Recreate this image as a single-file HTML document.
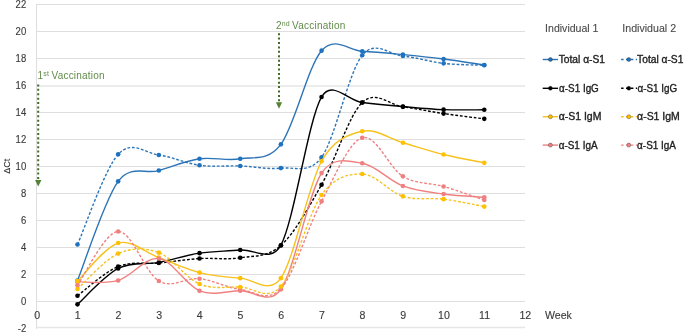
<!DOCTYPE html>
<html><head><meta charset="utf-8"><style>
html,body{margin:0;padding:0;background:#fff;}
svg{display:block;will-change:transform;}
text{font-family:"Liberation Sans",sans-serif;}
</style></head><body>
<svg width="685" height="334" viewBox="0 0 685 334">
<g stroke="#DEDEDE" stroke-width="1" shape-rendering="crispEdges"><line x1="36" y1="4.5" x2="525" y2="4.5"/><line x1="36" y1="31.5" x2="525" y2="31.5"/><line x1="36" y1="58.5" x2="525" y2="58.5"/><line x1="36" y1="86" x2="525" y2="86" shape-rendering="auto" stroke="#E6E6E6" stroke-width="1.3"/><line x1="36" y1="112.5" x2="525" y2="112.5"/><line x1="36" y1="139.5" x2="525" y2="139.5"/><line x1="36" y1="166.5" x2="525" y2="166.5"/><line x1="36" y1="193.5" x2="525" y2="193.5"/><line x1="36" y1="220.5" x2="525" y2="220.5"/><line x1="36" y1="247.5" x2="525" y2="247.5"/><line x1="36" y1="274.5" x2="525" y2="274.5"/><line x1="36" y1="301.5" x2="525" y2="301.5"/><line x1="36" y1="327.5" x2="525" y2="327.5" shape-rendering="auto" stroke="#E6E6E6" stroke-width="1.3"/><line x1="36.5" y1="4" x2="36.5" y2="328.5"/></g>
<g font-size="10.6" fill="#3A3A3A" stroke="#3A3A3A" stroke-width="0.12" text-anchor="end" transform="translate(26.2,0) scale(0.9,1) translate(-26.2,0)"><text x="26.2" y="8.4">22</text><text x="26.2" y="35.4">20</text><text x="26.2" y="62.4">18</text><text x="26.2" y="89.4">16</text><text x="26.2" y="116.4">14</text><text x="26.2" y="143.4">12</text><text x="26.2" y="170.4">10</text><text x="26.2" y="197.4">8</text><text x="26.2" y="224.4">6</text><text x="26.2" y="251.4">4</text><text x="26.2" y="278.4">2</text><text x="26.2" y="305.4">0</text><text x="26.2" y="331.9">-2</text></g>
<g font-size="10.6" fill="#3A3A3A" stroke="#3A3A3A" stroke-width="0.12" text-anchor="middle"><text x="37.1" y="318.9">0</text><text x="77.8" y="318.9">1</text><text x="118.5" y="318.9">2</text><text x="159.1" y="318.9">3</text><text x="199.8" y="318.9">4</text><text x="240.5" y="318.9">5</text><text x="281.2" y="318.9">6</text><text x="321.9" y="318.9">7</text><text x="362.5" y="318.9">8</text><text x="403.2" y="318.9">9</text><text x="443.9" y="318.9">10</text><text x="484.6" y="318.9">11</text><text x="525.3" y="318.9">12</text></g>
<text x="545" y="318.6" font-size="10.6" fill="#3A3A3A" stroke="#3A3A3A" stroke-width="0.12">Week</text>
<text transform="translate(10.0,166.2) rotate(-90)" font-size="9.9" fill="#333" stroke="#333" stroke-width="0.12" text-anchor="middle" textLength="15" lengthAdjust="spacingAndGlyphs">ΔCt</text>
<g fill="none" stroke-width="1.40" stroke-linejoin="round"><path d="M77.48,280.57 C84.26,264.04 104.60,199.69 118.16,181.35 C130.67,164.43 145.28,174.31 158.84,170.55 C172.40,166.79 185.96,160.76 199.52,158.81 C213.08,156.85 226.64,161.21 240.20,158.81 C253.76,156.40 267.90,161.61 280.88,144.36 C294.44,126.34 308.00,66.20 321.56,50.67 C334.94,35.35 348.68,50.56 362.24,51.21 C375.80,51.86 389.36,53.28 402.92,54.59 C416.48,55.89 430.04,57.31 443.60,59.04 C457.16,60.77 477.50,63.99 484.28,64.98" stroke="#2C74B8"/><g fill="#1F72C0"><circle cx="77.48" cy="280.57" r="2.30"/><circle cx="118.16" cy="181.35" r="2.30"/><circle cx="158.84" cy="170.55" r="2.30"/><circle cx="199.52" cy="158.81" r="2.30"/><circle cx="240.20" cy="158.81" r="2.30"/><circle cx="280.88" cy="144.36" r="2.30"/><circle cx="321.56" cy="50.67" r="2.30"/><circle cx="362.24" cy="51.21" r="2.30"/><circle cx="402.92" cy="54.59" r="2.30"/><circle cx="443.60" cy="59.04" r="2.30"/><circle cx="484.28" cy="64.98" r="2.30"/></g><path d="M77.48,244.53 C84.26,229.50 104.60,169.27 118.16,154.35 C131.72,139.43 145.28,153.20 158.84,155.03 C172.40,156.85 185.96,163.46 199.52,165.28 C213.08,167.11 226.64,165.49 240.20,165.96 C253.76,166.43 267.32,169.56 280.88,168.12 C294.44,166.68 309.25,174.39 321.56,157.32 C335.12,138.51 348.68,72.14 362.24,55.26 C374.98,39.40 389.36,54.72 402.92,56.07 C416.48,57.42 430.04,61.83 443.60,63.36 C457.16,64.89 477.50,64.94 484.28,65.25" stroke="#2C74B8" stroke-dasharray="2.8 1.8"/><g fill="#1F72C0"><circle cx="77.48" cy="244.53" r="2.30"/><circle cx="118.16" cy="154.35" r="2.30"/><circle cx="158.84" cy="155.03" r="2.30"/><circle cx="199.52" cy="165.28" r="2.30"/><circle cx="240.20" cy="165.96" r="2.30"/><circle cx="280.88" cy="168.12" r="2.30"/><circle cx="321.56" cy="157.32" r="2.30"/><circle cx="362.24" cy="55.26" r="2.30"/><circle cx="402.92" cy="56.07" r="2.30"/><circle cx="443.60" cy="63.36" r="2.30"/><circle cx="484.28" cy="65.25" r="2.30"/></g><path d="M77.48,304.33 C84.26,298.35 104.60,275.42 118.16,268.43 C131.72,261.43 145.28,264.89 158.84,262.35 C172.40,259.81 185.96,255.22 199.52,253.17 C213.08,251.12 226.64,251.39 240.20,250.06 C253.76,248.74 271.27,263.29 280.88,245.20 C294.44,219.69 308.00,120.76 321.56,96.97 C331.73,79.14 348.68,100.91 362.24,102.51 C375.80,104.11 389.36,105.37 402.92,106.56 C416.48,107.75 430.04,109.12 443.60,109.66 C457.16,110.20 477.50,109.78 484.28,109.80" stroke="#000000"/><g fill="#000000"><circle cx="77.48" cy="304.33" r="2.30"/><circle cx="118.16" cy="268.43" r="2.30"/><circle cx="158.84" cy="262.35" r="2.30"/><circle cx="199.52" cy="253.17" r="2.30"/><circle cx="240.20" cy="250.06" r="2.30"/><circle cx="280.88" cy="245.20" r="2.30"/><circle cx="321.56" cy="96.97" r="2.30"/><circle cx="362.24" cy="102.51" r="2.30"/><circle cx="402.92" cy="106.56" r="2.30"/><circle cx="443.60" cy="109.66" r="2.30"/><circle cx="484.28" cy="109.80" r="2.30"/></g><path d="M77.48,295.69 C84.26,290.83 104.60,271.98 118.16,266.54 C131.72,261.09 145.28,264.35 158.84,263.02 C172.40,261.70 185.96,259.45 199.52,258.57 C213.08,257.69 226.64,259.94 240.20,257.76 C253.76,255.58 267.32,257.65 280.88,245.47 C294.44,233.30 308.00,208.55 321.56,184.72 C335.12,160.90 348.68,115.49 362.24,102.51 C375.80,89.53 389.36,104.99 402.92,106.83 C416.48,108.68 430.04,111.58 443.60,113.58 C457.16,115.58 477.50,117.97 484.28,118.84" stroke="#000000" stroke-dasharray="2.8 1.8"/><g fill="#000000"><circle cx="77.48" cy="295.69" r="2.30"/><circle cx="118.16" cy="266.54" r="2.30"/><circle cx="158.84" cy="263.02" r="2.30"/><circle cx="199.52" cy="258.57" r="2.30"/><circle cx="240.20" cy="257.76" r="2.30"/><circle cx="280.88" cy="245.47" r="2.30"/><circle cx="321.56" cy="184.72" r="2.30"/><circle cx="362.24" cy="102.51" r="2.30"/><circle cx="402.92" cy="106.83" r="2.30"/><circle cx="443.60" cy="113.58" r="2.30"/><circle cx="484.28" cy="118.84" r="2.30"/></g><path d="M77.48,281.12 C84.26,274.77 104.60,246.96 118.16,243.05 C131.72,239.13 145.28,252.70 158.84,257.62 C172.40,262.55 185.96,269.19 199.52,272.61 C213.08,276.03 226.64,277.22 240.20,278.14 C253.76,279.07 269.26,294.84 280.88,278.14 C294.44,258.66 308.00,185.71 321.56,161.23 C333.80,139.14 348.68,134.35 362.24,131.27 C375.80,128.18 389.36,138.87 402.92,142.74 C416.48,146.61 430.04,151.13 443.60,154.48 C457.16,157.84 477.50,161.46 484.28,162.86" stroke="#F7C21E"/><g fill="#FFC000"><circle cx="77.48" cy="281.12" r="2.30"/><circle cx="118.16" cy="243.05" r="2.30"/><circle cx="158.84" cy="257.62" r="2.30"/><circle cx="199.52" cy="272.61" r="2.30"/><circle cx="240.20" cy="278.14" r="2.30"/><circle cx="280.88" cy="278.14" r="2.30"/><circle cx="321.56" cy="161.23" r="2.30"/><circle cx="362.24" cy="131.27" r="2.30"/><circle cx="402.92" cy="142.74" r="2.30"/><circle cx="443.60" cy="154.48" r="2.30"/><circle cx="484.28" cy="162.86" r="2.30"/></g><path d="M77.48,281.93 C84.26,281.68 104.60,284.36 118.16,280.44 C131.72,276.52 145.28,256.70 158.84,258.44 C172.40,260.17 185.96,285.46 199.52,290.83 C213.08,296.21 226.64,290.95 240.20,290.70 C253.76,290.45 269.30,306.09 280.88,289.35 C294.44,269.75 308.00,194.13 321.56,173.12 C332.91,155.53 348.68,161.12 362.24,163.26 C375.80,165.40 389.36,180.81 402.92,185.94 C416.48,191.07 430.04,192.15 443.60,194.04 C457.16,195.93 477.50,196.74 484.28,197.28" stroke="#F08080"/><g fill="#F08080"><circle cx="77.48" cy="281.93" r="2.30"/><circle cx="118.16" cy="280.44" r="2.30"/><circle cx="158.84" cy="258.44" r="2.30"/><circle cx="199.52" cy="290.83" r="2.30"/><circle cx="240.20" cy="290.70" r="2.30"/><circle cx="280.88" cy="289.35" r="2.30"/><circle cx="321.56" cy="173.12" r="2.30"/><circle cx="362.24" cy="163.26" r="2.30"/><circle cx="402.92" cy="185.94" r="2.30"/><circle cx="443.60" cy="194.04" r="2.30"/><circle cx="484.28" cy="197.28" r="2.30"/></g><path d="M77.48,285.17 C84.26,276.21 104.60,232.13 118.16,231.44 C131.72,230.74 145.28,273.11 158.84,280.98 C172.40,288.86 185.96,277.29 199.52,278.69 C213.08,280.08 226.64,287.69 240.20,289.35 C253.76,291.02 267.32,303.35 280.88,288.68 C294.44,274.00 308.00,226.48 321.56,201.33 C335.12,176.17 348.68,141.91 362.24,137.74 C375.80,133.58 389.36,168.23 402.92,176.36 C416.48,184.48 430.04,182.54 443.60,186.48 C457.16,190.42 477.50,197.73 484.28,199.98" stroke="#F08080" stroke-dasharray="2.8 1.8"/><g fill="#F08080"><circle cx="77.48" cy="285.17" r="2.30"/><circle cx="118.16" cy="231.44" r="2.30"/><circle cx="158.84" cy="280.98" r="2.30"/><circle cx="199.52" cy="278.69" r="2.30"/><circle cx="240.20" cy="289.35" r="2.30"/><circle cx="280.88" cy="288.68" r="2.30"/><circle cx="321.56" cy="201.33" r="2.30"/><circle cx="362.24" cy="137.74" r="2.30"/><circle cx="402.92" cy="176.36" r="2.30"/><circle cx="443.60" cy="186.48" r="2.30"/><circle cx="484.28" cy="199.98" r="2.30"/></g><path d="M77.48,288.94 C84.26,283.05 104.60,259.63 118.16,253.57 C131.72,247.52 145.28,247.57 158.84,252.63 C172.40,257.69 185.96,278.21 199.52,283.95 C213.08,289.69 226.64,286.63 240.20,287.06 C253.76,287.48 267.41,301.76 280.88,286.51 C294.44,271.17 308.00,213.73 321.56,194.99 C334.97,176.45 348.68,173.84 362.24,174.06 C375.80,174.28 389.36,192.15 402.92,196.33 C416.48,200.52 430.04,197.46 443.60,199.17 C457.16,200.88 477.50,205.36 484.28,206.59" stroke="#F7C21E" stroke-dasharray="2.8 1.8"/><g fill="#FFC000"><circle cx="77.48" cy="288.94" r="2.30"/><circle cx="118.16" cy="253.57" r="2.30"/><circle cx="158.84" cy="252.63" r="2.30"/><circle cx="199.52" cy="283.95" r="2.30"/><circle cx="240.20" cy="287.06" r="2.30"/><circle cx="280.88" cy="286.51" r="2.30"/><circle cx="321.56" cy="194.99" r="2.30"/><circle cx="362.24" cy="174.06" r="2.30"/><circle cx="402.92" cy="196.33" r="2.30"/><circle cx="443.60" cy="199.17" r="2.30"/><circle cx="484.28" cy="206.59" r="2.30"/></g><circle cx="77.48" cy="281.12" r="2.30" fill="#FFC000"/></g>
<g fill="#618C4A" font-size="10" letter-spacing="0.22">
<text x="37.4" y="79.1">1<tspan font-size="7" dy="-2.9">st</tspan><tspan dy="2.9" dx="-0.6"> Vaccination</tspan></text>
<text x="275.9" y="28.5">2<tspan font-size="7" dy="-2.9">nd</tspan><tspan dy="2.9" dx="-0.8"> Vaccination</tspan></text>
</g>
<g stroke="#3F6B27" stroke-width="2" stroke-dasharray="2 2.41">
<line x1="38.2" y1="84.4" x2="38.2" y2="180"/>
<line x1="279" y1="33.2" x2="279" y2="102.5"/>
</g>
<g fill="#548235">
<polygon points="35.1,180 41.4,180 38.25,186.4"/>
<polygon points="275.9,102.3 282.1,102.3 279,108.8"/>
</g>
<g font-size="10" fill="#4A4A4A" stroke="#4A4A4A" stroke-width="0.1">
<text x="545.1" y="32.4" textLength="53.4" lengthAdjust="spacingAndGlyphs">Individual 1</text>
<text x="622.3" y="32.4" textLength="53.8" lengthAdjust="spacingAndGlyphs">Individual 2</text>
</g>
<g font-size="10.2" fill="#1E1E1E" stroke="#1E1E1E" stroke-width="0.35"><line x1="542.7" y1="59.5" x2="558.0" y2="59.5" stroke="#2C74B8" stroke-width="1.4"/><circle cx="550.4" cy="59.5" r="2.0" fill="#1F72C0"/><text x="558.7" y="63.0" textLength="46.3" lengthAdjust="spacingAndGlyphs">Total α-S1</text><line x1="542.7" y1="88.3" x2="558.0" y2="88.3" stroke="#000000" stroke-width="1.4"/><circle cx="550.4" cy="88.3" r="2.0" fill="#000000"/><text x="559.1" y="91.8" textLength="39.7" lengthAdjust="spacingAndGlyphs">α-S1 IgG</text><line x1="542.7" y1="116.7" x2="558.0" y2="116.7" stroke="#F7C21E" stroke-width="1.4"/><circle cx="550.4" cy="116.7" r="2.0" fill="#FFC000"/><text x="558.7" y="120.2" textLength="42.7" lengthAdjust="spacingAndGlyphs">α-S1 IgM</text><line x1="542.7" y1="145.1" x2="558.0" y2="145.1" stroke="#F08080" stroke-width="1.4"/><circle cx="550.4" cy="145.1" r="2.0" fill="#F08080"/><text x="558.7" y="148.6" textLength="38.9" lengthAdjust="spacingAndGlyphs">α-S1 IgA</text><line x1="621.1" y1="59.5" x2="637.1" y2="59.5" stroke="#2C74B8" stroke-width="1.4" stroke-dasharray="2.5 2.4"/><circle cx="628.8" cy="59.5" r="2.0" fill="#1F72C0"/><text x="637.1" y="63.0" textLength="46.3" lengthAdjust="spacingAndGlyphs">Total α-S1</text><line x1="621.1" y1="88.3" x2="637.1" y2="88.3" stroke="#000000" stroke-width="1.4" stroke-dasharray="2.5 2.4"/><circle cx="628.8" cy="88.3" r="2.0" fill="#000000"/><text x="637.5" y="91.8" textLength="39.7" lengthAdjust="spacingAndGlyphs">α-S1 IgG</text><line x1="621.1" y1="116.7" x2="637.1" y2="116.7" stroke="#F7C21E" stroke-width="1.4" stroke-dasharray="2.5 2.4"/><circle cx="628.8" cy="116.7" r="2.0" fill="#FFC000"/><text x="637.1" y="120.2" textLength="42.7" lengthAdjust="spacingAndGlyphs">α-S1 IgM</text><line x1="621.1" y1="145.1" x2="637.1" y2="145.1" stroke="#F08080" stroke-width="1.4" stroke-dasharray="2.5 2.4"/><circle cx="628.8" cy="145.1" r="2.0" fill="#F08080"/><text x="637.1" y="148.6" textLength="38.9" lengthAdjust="spacingAndGlyphs">α-S1 IgA</text></g>
</svg>
</body></html>
